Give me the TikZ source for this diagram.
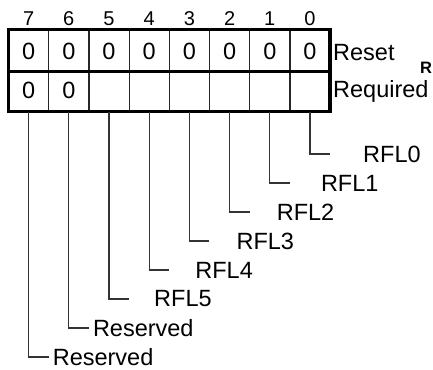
\documentclass[tikz,border=0pt]{standalone}
\usepackage{fontspec}
\setmainfont{Liberation Sans}[BoldFont={Liberation Sans Bold}]
\usetikzlibrary{math}

\begin{document}
\begin{tikzpicture}[x=1pt,y=-1pt,
  bitnum/.style={font=\fontsize{20}{24}\selectfont},
  val/.style={font=\fontsize{23.5}{28}\selectfont},
  frame/.style={line width=3.5pt},
  cellline/.style={line width=1.2pt, black!85},
  leader/.style={line width=1.2pt, black!80},
  fieldname/.style={val, anchor=west, inner sep=0pt}]

\tikzmath{
\W = 40.2; % cell width
\xl = 8.5;
\xr = \xl+8*\W;
\yt = 29.5;
\ym = 71.5;
\yb = 111.5;
}

\useasboundingbox (0,0) rectangle (433,369);
\clip (0,0) rectangle (433,369);

%register box:
\foreach \k in {1,...,7}
  \draw[cellline] (\xl+\k*\W,\yt) -- (\xl+\k*\W,\yb);
\draw[frame] (\xl,\ym) -- (\xr,\ym);
\draw[frame] (\xl,\yt) rectangle (\xr,\yb);

%bit numbers and values
\foreach \b in {0,...,7}{
  \coordinate (c\b) at ({\xl+(7-\b+0.5)*\W},\yb);
  \node[bitnum] (n\b) at ({\xl+(7-\b+0.5)*\W},18.5) {\b};
  \node[val] (r\b) at ({\xl+(7-\b+0.5)*\W},51.7) {0};
}
\node[val] (q7) at ({\xl+0.5*\W},90) {0};
\node[val] (q6) at ({\xl+1.5*\W},90) {0};

\node[val, anchor=base west, inner sep=0pt] (reset) at (333,60) {Reset};
\node[val, anchor=base west, inner sep=0pt] (req) at (333,97) {Required};
\node[anchor=base west, inner sep=0pt, font=\bfseries\fontsize{16.5}{20}\selectfont] (title) at (420,73.5) {R};

%fields
\foreach \b/\txt/\yy/\gap in {0/RFL0/154/33, 1/RFL1/183/31, 2/RFL2/212/27, 3/RFL3/241/27,
    4/RFL4/270/26, 5/RFL5/299/25, 6/Reserved/328/4, 7/Reserved/357/4}{
  \coordinate (e\b) at ({\xl+(7-\b+0.5)*\W+20},\yy);
  \draw[leader] (c\b) |- (e\b);
  \node[fieldname] (f\b) at ([xshift=\gap pt]e\b) {\txt};
}

\end{tikzpicture}
\end{document}
